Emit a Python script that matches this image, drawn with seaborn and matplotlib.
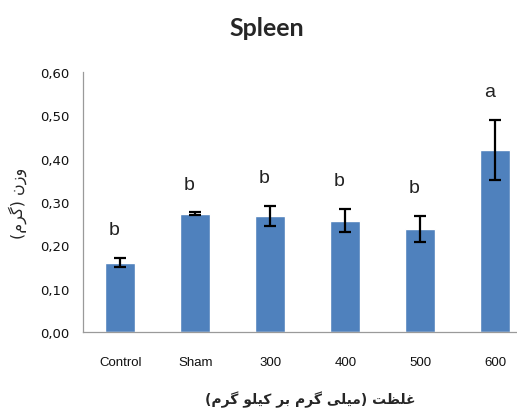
import matplotlib
matplotlib.use("Agg")
import matplotlib.pyplot as plt
import seaborn as sns
import pandas as pd
from matplotlib import font_manager

# Spleen weight per dose group
groups = ["Control", "Sham", "300", "400", "500", "600"]
means = [0.160, 0.273, 0.268, 0.257, 0.238, 0.420]
errors = [0.011, 0.003, 0.023, 0.027, 0.030, 0.070]
letters = ["b", "b", "b", "b", "b", "a"]
yticks = [0.0, 0.1, 0.2, 0.3, 0.4, 0.5, 0.6]
ytick_labels = ["0,00", "0,10", "0,20", "0,30", "0,40", "0,50", "0,60"]
title = "Spleen"
xlabel_text = "غلظت (میلی گرم بر کیلو گرم)"
ylabel_text = "وزن (گرم)"

# Arabic-script presentation forms: isolated, final, initial, medial
FORMS = {
    "ب": "\uFE8F\uFE90\uFE91\uFE92",
    "ت": "\uFE95\uFE96\uFE97\uFE98",
    "ر": "\uFEAD\uFEAE",
    "ز": "\uFEAF\uFEB0",
    "ظ": "\uFEC5\uFEC6\uFEC7\uFEC8",
    "غ": "\uFECD\uFECE\uFECF\uFED0",
    "ل": "\uFEDD\uFEDE\uFEDF\uFEE0",
    "م": "\uFEE1\uFEE2\uFEE3\uFEE4",
    "ن": "\uFEE5\uFEE6\uFEE7\uFEE8",
    "و": "\uFEED\uFEEE",
    "ی": "\uFBFC\uFBFD\uFBFE\uFBFF",
    "ک": "\uFB8E\uFB8F\uFB90\uFB91",
    "گ": "\uFB92\uFB93\uFB94\uFB95",
}
MIRROR = {"(": ")", ")": "("}


def rtl(text):
    """Join the letters and return the line in left-to-right drawing order."""
    out = []
    n = len(text)
    for i, ch in enumerate(text):
        if ch not in FORMS:
            out.append(MIRROR.get(ch, ch))
            continue
        prev = text[i - 1] if i > 0 else None
        nxt = text[i + 1] if i < n - 1 else None
        joins_prev = prev in FORMS and len(FORMS[prev]) == 4
        joins_next = nxt in FORMS and len(FORMS[ch]) == 4
        f = FORMS[ch]
        if joins_prev and joins_next:
            out.append(f[3])
        elif joins_prev:
            out.append(f[1])
        elif joins_next:
            out.append(f[2])
        else:
            out.append(f[0])
    return "".join(out)[::-1]


sns.set_theme(style="white")

installed = {f.name for f in font_manager.fontManager.ttflist}
narrow = "Liberation Sans Narrow" if "Liberation Sans Narrow" in installed else "Liberation Sans"

df = pd.DataFrame({"group": groups, "mean": means, "err": errors})

fig = plt.figure(figsize=(5.17, 4.14), dpi=100)
ax = fig.add_axes([0.1605, 0.1957, 0.870, 0.628])

sns.barplot(data=df, x="group", y="mean", color="#4F81BD", saturation=1,
            width=0.4, errorbar=None, ax=ax)
ax.errorbar(range(len(groups)), df["mean"], yerr=df["err"], fmt="none",
            ecolor="black", elinewidth=1.6, capsize=4.5, capthick=1.6, zorder=3)

for i, (m, e, t) in enumerate(zip(means, errors, letters)):
    ax.text(i - 0.08, m + e + 0.065, t, ha="center", va="center",
            fontsize=14, family=narrow, color="#222222")

ax.set_xlim(-0.5, len(groups) - 0.5)
ax.set_ylim(0, 0.6)
ax.set_yticks(yticks)
ax.set_yticklabels(ytick_labels, fontsize=9.5, family="DejaVu Sans", color="#111111")
ax.set_xticks(range(len(groups)))
ax.set_xticklabels(groups, fontsize=9.5, family=narrow, color="#111111")
ax.set_xticks([i - 0.5 for i in range(len(groups) + 1)], minor=True)
ax.tick_params(axis="x", which="major", length=0, pad=17)
ax.tick_params(axis="x", which="minor", length=5, color="#999999", direction="out", width=0.8)
ax.tick_params(axis="y", length=4, color="#999999", direction="out", width=0.8, pad=6)

for side in ["top", "right"]:
    ax.spines[side].set_visible(False)
for side in ["left", "bottom"]:
    ax.spines[side].set_color("#9a9a9a")
    ax.spines[side].set_linewidth(0.9)

ax.set_xlabel("")
ax.set_ylabel("")

fig.text(310 / 517, 1 - 400 / 414, rtl(xlabel_text), ha="center", va="center",
         fontsize=10, fontweight="bold", family="DejaVu Sans")
fig.text(18 / 517, 1 - 203 / 414, rtl(ylabel_text), ha="center", va="center",
         rotation=90, fontsize=11.5, family="DejaVu Sans")

fig.text(267 / 517, 1 - 29 / 414, title, ha="center", va="center",
         fontsize=18, fontweight="bold", family="Lato")

fig.savefig("out.png", dpi=100)
